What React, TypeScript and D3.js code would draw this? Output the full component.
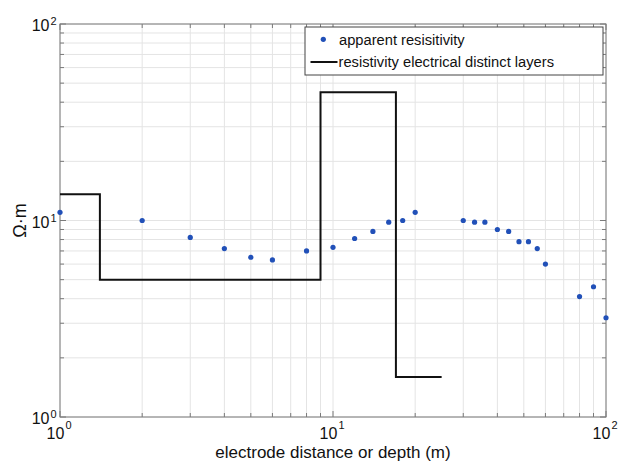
import * as d3 from 'd3'

// apparent resistivity sounding points
const depths = [1, 2, 3, 4, 5, 6, 8, 10, 12, 14, 16, 18, 20, 30, 33, 36, 40, 44, 48, 52, 56, 60, 80, 90, 100]
const rhoApparent = [11, 10, 8.2, 7.2, 6.5, 6.3, 7.0, 7.3, 8.1, 8.8, 9.8, 10, 11, 10, 9.8, 9.8, 9.0, 8.8, 7.8, 7.8, 7.2, 6.0, 4.1, 4.6, 3.2]

// layer model (step after)
const layerTop = [1, 1.4, 9, 17, 25]
const layerRho = [13.6, 5, 45, 1.6, 1.6]

const decades = [0, 1, 2]
const legendLabels = ['apparent resisitivity', 'resistivity electrical distinct layers']

const W = 622
const H = 461
const M = { left: 60, right: 16, top: 24, bottom: 44 }
const FONT = '"Liberation Sans", Arial, sans-serif'

export default function App() {
  const x = d3.scaleLog().domain([1, 100]).range([M.left, W - M.right])
  const y = d3.scaleLog().domain([1, 100]).range([H - M.bottom, M.top])

  const majors = decades.map(e => Math.pow(10, e))
  const minors: number[] = []
  for (let e = 0; e < 2; e++) {
    for (let k = 2; k <= 9; k++) minors.push(k * Math.pow(10, e))
  }

  const layerPts = layerTop.map((d, i) => [d, layerRho[i]] as [number, number])
  const layerPath = d3
    .line<[number, number]>()
    .x(d => x(d[0]))
    .y(d => y(d[1]))
    .curve(d3.curveStepAfter)(layerPts)

  const [x0, x1] = x.range()
  const [y0, y1] = y.range()
  const grid = '#e4e4e4'
  const axisCol = '#7a7a7a'

  return (
    <svg width={W} height={H} style={{ position: 'absolute', left: 0, top: 0, background: '#fff' }} fontFamily={FONT}>
      <rect x={0} y={0} width={W} height={H} fill="#fff" />
      {/* grid */}
      <g stroke={grid} strokeWidth={1}>
        {[...minors, ...majors].map(v => (
          <line key={'gx' + v} x1={x(v)} x2={x(v)} y1={y1} y2={y0} />
        ))}
        {[...minors, ...majors].map(v => (
          <line key={'gy' + v} x1={x0} x2={x1} y1={y(v)} y2={y(v)} />
        ))}
      </g>
      {/* ticks on all four sides */}
      <g stroke={axisCol} strokeWidth={1}>
        {[...minors.map(v => [v, 4]), ...majors.map(v => [v, 6])].map(([v, len]) => (
          <g key={'t' + v}>
            <line x1={x(v)} x2={x(v)} y1={y0} y2={y0 - len} />
            <line x1={x(v)} x2={x(v)} y1={y1} y2={y1 + len} />
            <line x1={x0} x2={x0 + len} y1={y(v)} y2={y(v)} />
            <line x1={x1} x2={x1 - len} y1={y(v)} y2={y(v)} />
          </g>
        ))}
      </g>
      <rect x={x0} y={y1} width={x1 - x0} height={y0 - y1} fill="none" stroke={axisCol} strokeWidth={1} />

      {/* layer model */}
      <path d={layerPath || ''} fill="none" stroke="#111" strokeWidth={2} />

      {/* apparent resistivity */}
      <g fill="#2150b8">
        {depths.map((d, i) => (
          <circle key={i} cx={x(d)} cy={y(rhoApparent[i])} r={2.6} />
        ))}
      </g>

      {/* y tick labels */}
      {decades.map(e => (
        <text key={'yl' + e} fill="#111">
          <tspan x={49.5} y={y(Math.pow(10, e)) + 7} fontSize={16} textAnchor="end">10</tspan>
          <tspan x={50.5} y={y(Math.pow(10, e)) + 1} fontSize={11}>{e}</tspan>
        </text>
      ))}
      {/* x tick labels */}
      {decades.map(e => (
        <text key={'xl' + e} fill="#111">
          <tspan x={x(Math.pow(10, e)) - 4.5} y={439} fontSize={16} textAnchor="middle">10</tspan>
          <tspan x={x(Math.pow(10, e)) + 5.5} y={429} fontSize={11}>{e}</tspan>
        </text>
      ))}

      <text x={(x0 + x1) / 2} y={458} fontSize={17} textAnchor="middle" fill="#111">
        electrode distance or depth (m)
      </text>
      <text transform={`translate(26,${(y0 + y1) / 2}) rotate(-90)`} fontSize={18} textAnchor="middle" fill="#111">
        Ω·m
      </text>

      {/* legend */}
      <g>
        <rect x={305} y={27} width={298} height={48} fill="#fff" stroke="#444" strokeWidth={1} />
        <circle cx={323.3} cy={39.3} r={2.6} fill="#2150b8" />
        <text x={339} y={44.5} fontSize={14.7} fill="#111">{legendLabels[0]}</text>
        <line x1={310.5} x2={337.5} y1={62} y2={62} stroke="#111" strokeWidth={2} />
        <text x={338.5} y={67} fontSize={14.7} fill="#111">{legendLabels[1]}</text>
      </g>
    </svg>
  )
}
